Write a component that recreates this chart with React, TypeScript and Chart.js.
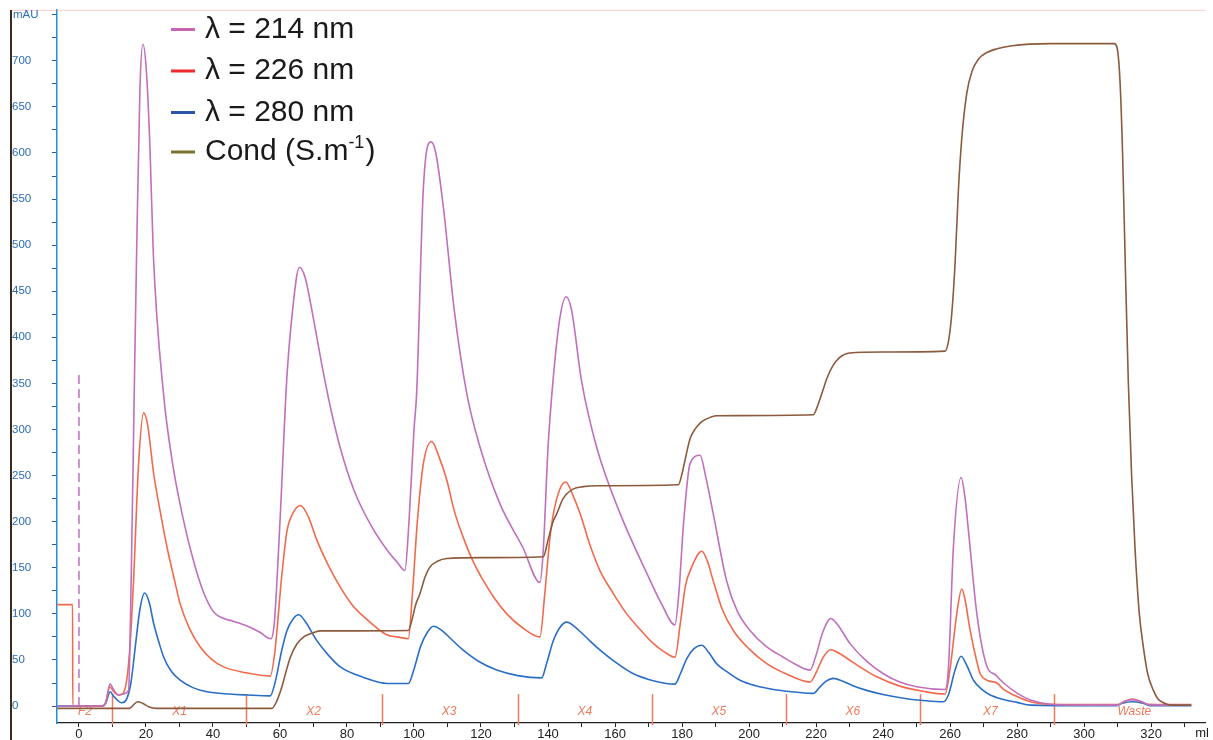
import { useEffect, useRef } from "react";
import { Chart, registerables } from "chart.js";
Chart.register(...registerables);

// ---- data (ml, mAU) ----
const ml214 = [-6.5, 7, 8, 9.3, 10.3, 11.8, 13, 14.8, 15.5, 16.5, 17.2, 18.2, 19.1, 20.1, 21.2, 22.2, 25.2, 28, 31, 34, 37, 40, 42.5, 46, 50, 54, 57.3, 58.3, 60, 62, 63.5, 65.8, 67.5, 70, 72.5, 75, 78, 82, 87, 92, 95, 97.3, 98.5, 100, 100.8, 102.8, 105.1, 106.5, 108.8, 112, 115.7, 119.7, 125.7, 132.5, 137.6, 138.6, 140, 141.5, 143.5, 145.4, 147, 150, 154.5, 161.5, 169.5, 174, 177.9, 179, 180.5, 182.4, 185.4, 187, 189.3, 193.3, 196.5, 200.3, 205, 210.2, 214, 218.2, 220, 222, 224.4, 226.5, 230.1, 235, 240.1, 245, 250, 258.5, 259.5, 261, 263.3, 264.5, 265.5, 268, 271, 273.5, 276, 280, 284, 290, 300, 310, 312, 314.5, 317, 319.5, 332];
const mAU214 = [0, 0, 4, 24, 18, 12, 13, 17, 120, 340, 490, 670, 718, 690, 605, 490, 340, 262, 205, 160, 125, 103, 96, 92, 87, 80, 73, 90, 200, 353, 420, 476, 465, 420, 370, 325, 280, 235, 197, 169, 156, 147, 200, 300, 340, 562, 612, 600, 540, 430, 340, 281, 219, 172, 134, 170, 280, 353, 420, 444, 430, 353, 281, 209, 144, 110, 88, 120, 200, 263, 272, 250, 209, 136, 103, 82, 65, 53, 45, 39, 55, 80, 95, 88, 68, 49, 35, 26, 21, 18, 40, 172, 248, 225, 190, 100, 43, 34, 25, 14, 6.5, 2, 1, 1, 5, 7, 5, 1.5, 1];

const ml226 = [-6.5, -1.9, -1.85, 7, 8, 9.2, 10.3, 11.8, 13, 14.5, 15.5, 16.3, 17.8, 19.3, 20.5, 22.3, 24.3, 26.3, 28.3, 30.2, 33, 36.2, 39.5, 43.2, 50, 57.1, 58.5, 60.5, 62.1, 64, 66.1, 68.5, 71, 74.5, 78, 81.5, 85, 92, 95, 98.3, 99.5, 101, 102.8, 105.3, 107.5, 109.8, 112, 114.7, 117.5, 120.7, 124, 127.7, 132, 137.6, 139, 140.5, 141.6, 143.5, 145.3, 147.5, 149.6, 152.5, 155.5, 159.5, 163.5, 167.5, 171.4, 175, 177.9, 179.5, 181, 182.9, 185.9, 187.5, 189.3, 192, 195.3, 200, 205.3, 211, 218.2, 220, 222, 224.4, 227, 230, 233.1, 238, 245, 252, 258.5, 260, 262, 263.5, 264.5, 266, 268, 269, 271, 274, 276, 279, 284, 290, 310, 312, 314.5, 317, 319.5, 332];
const mAU226 = [110, 110, 0, 0, 4, 21, 16, 12, 13, 35, 80, 136, 263, 318, 305, 252, 210, 172, 140, 111, 84, 64, 51, 42.5, 36, 32.5, 60, 140, 190, 210, 217.5, 205, 180, 152, 129, 110, 97, 77, 75, 73, 120, 200, 263, 287, 270, 245, 212, 183, 158, 136, 117, 100, 86, 75, 120, 180, 208.5, 235, 243, 228, 208.5, 175, 147, 122, 100, 83, 68, 58, 53, 90, 130, 151, 168, 158, 136, 105, 82, 62, 46, 35, 26, 36, 52, 61, 57, 50, 42.5, 32, 21.6, 16, 13, 40, 100, 127, 115, 82, 48, 35, 28, 25, 18, 12, 4.6, 2, 1.5, 5, 7.5, 5, 1.5, 1.5];

const ml280 = [-6.5, 7, 8, 9.3, 10.5, 12.8, 14, 15.5, 16.8, 18.2, 19.6, 21, 22.3, 23.8, 25.3, 27.5, 30.2, 34, 38.2, 45, 50, 57.1, 58.5, 60.5, 62.1, 64, 65.6, 67.5, 71, 74.5, 78, 85, 92, 98.3, 100, 102, 104, 105.8, 108, 111, 114.7, 119.5, 124.7, 131, 138.1, 139.5, 141.5, 143.5, 145.6, 148, 151, 154.5, 160, 165.5, 172, 177.9, 179.5, 181.5, 183.5, 185.9, 188, 190.3, 193.5, 197.3, 202, 207.3, 213, 219.2, 221, 223, 225.2, 228, 231, 235.1, 240, 247, 252, 258, 259.5, 261.5, 263.3, 265, 267, 269.5, 272, 276, 280, 284, 300, 309.7, 311.5, 314.5, 317.5, 319.7, 332];
const mAU280 = [0, 0, 3, 15.5, 10, 3.6, 6, 25, 64, 105, 122.6, 112, 89.5, 70, 53, 38, 28, 20, 15.5, 13, 12, 11, 25, 60, 82, 95, 99, 92, 71, 55, 42.5, 31, 24.5, 24.5, 40, 65, 80, 86.6, 83, 73, 60.6, 48, 39, 33, 30.6, 45, 70, 85, 91, 86, 76, 64, 48, 35, 27, 23.8, 35, 52, 62, 66, 58, 46, 37, 28, 22, 18, 15.5, 13.7, 20, 27, 30, 27, 22, 17, 12.5, 8, 6, 4.6, 12, 39, 54, 44, 28, 18, 12, 7, 4, 1, 0.5, 0.5, 3, 4.6, 3, 0.5, 0.5];

const mlCond = [-6.5, 15, 16.5, 17.5, 19, 21, 23, 57.6, 59, 60.5, 62, 63.1, 65, 67.1, 69.5, 72, 98.3, 99.5, 100.5, 101.8, 103.3, 104.8, 107, 109.8, 120, 138.6, 140, 141.5, 142.6, 144.5, 147.6, 150.5, 154.5, 178.9, 180, 181.2, 182.4, 184, 185.4, 187, 190.3, 219.2, 220.5, 222, 223.2, 225, 227, 230, 240, 258.5, 259.5, 260.5, 261.5, 262.5, 263.6, 265, 266.5, 268.5, 271, 274, 278, 290, 309, 309.8, 310.7, 311.5, 312.3, 313.2, 314.2, 315.2, 316.5, 317.7, 319, 320.7, 322, 323.7, 326, 332];
const cond = [-2.5, -2.5, 2, 4.6, 3, -1, -2.5, -2.5, 5, 20, 40, 53, 67, 75, 79, 81.5, 82, 95, 110, 122, 140, 151, 157, 160, 161, 162, 180, 200, 208.5, 225, 235.6, 238, 239, 240, 252, 272, 290, 301, 307, 311, 315, 316, 326, 342, 355, 369, 378, 383, 384, 385, 395, 425, 480, 560, 620, 665, 688, 702, 709, 713, 716, 718.6, 718.6, 715, 680, 600, 480, 353, 250, 172, 100, 64, 35, 17, 8, 3.6, 1, 1];

const fractionBounds = [10, 50, 90.5, 131, 171, 211, 251, 291];
const fractionNames = ["F2", "X1", "X2", "X3", "X4", "X5", "X6", "X7", "Waste"];
const fractionCenters = [1.8, 30, 70, 110.5, 151, 191, 231, 272, 315];
const injectionMl = [0];
const injectionTop = [364];

const xTickValues = [0, 10, 20, 30, 40, 50, 60, 70, 80, 90, 100, 110, 120, 130, 140, 150, 160, 170, 180, 190, 200, 210, 220, 230, 240, 250, 260, 270, 280, 290, 300, 310, 320, 330];
const yTickValues = [0, 25, 50, 75, 100, 125, 150, 175, 200, 225, 250, 275, 300, 325, 350, 375, 400, 425, 450, 475, 500, 525, 550, 575, 600, 625, 650, 675, 700, 725, 750];

const legendLabels = ["λ = 214 nm", "λ = 226 nm", "λ = 280 nm", "Cond (S.m"];
const legendColors = ["#c864b4", "#ee2a2a", "#2a55a8", "#7a7030"];

const C214 = "#c070bc";
const C226 = "#f26a4c";
const C280 = "#2a6ec6";
const CCOND = "#8c5a3c";
const FRAC = "#f07a5c";
const FONT = "'Liberation Sans', Arial, Helvetica, sans-serif";

const toPts = (xs: number[], ys: number[]) => xs.map((x, i) => ({ x, y: ys[i] }));

const decorPlugin = {
  id: "decor",
  beforeDatasetsDraw(chart: any) {
    const { ctx, chartArea, scales } = chart;
    const x = scales.x;
    const y = scales.y;
    ctx.save();
    ctx.strokeStyle = FRAC;
    ctx.lineWidth = 1.5;
    fractionBounds.forEach((b) => {
      const px = Math.round(x.getPixelForValue(b)) + 0.5;
      ctx.beginPath();
      ctx.moveTo(px, chartArea.bottom + 2);
      ctx.lineTo(px, y.getPixelForValue(13));
      ctx.stroke();
    });
    ctx.fillStyle = FRAC;
    ctx.font = `italic 12px ${FONT}`;
    ctx.textAlign = "center";
    ctx.textBaseline = "middle";
    fractionNames.forEach((n, i) => {
      ctx.fillText(n, x.getPixelForValue(fractionCenters[i]), chartArea.bottom - 11);
    });
    ctx.strokeStyle = "#c070bc";
    ctx.lineWidth = 1.5;
    ctx.setLineDash([9, 5]);
    injectionMl.forEach((m, i) => {
      const px = x.getPixelForValue(m);
      ctx.beginPath();
      ctx.moveTo(px, y.getPixelForValue(0));
      ctx.lineTo(px, y.getPixelForValue(injectionTop[i]));
      ctx.stroke();
    });
    ctx.setLineDash([]);
    ctx.restore();
  },
  afterDraw(chart: any) {
    const { ctx, chartArea } = chart;
    ctx.save();
    ctx.strokeStyle = "#3a2a20";
    ctx.lineWidth = 2;
    ctx.beginPath();
    ctx.moveTo(11, chartArea.top);
    ctx.lineTo(11, 740);
    ctx.stroke();
    ctx.strokeStyle = "rgba(240,150,130,0.45)";
    ctx.lineWidth = 1;
    ctx.beginPath();
    ctx.moveTo(12, chartArea.top + 0.5);
    ctx.lineTo(chartArea.right, chartArea.top + 0.5);
    ctx.stroke();
    ctx.fillStyle = "#2b6cb8";
    ctx.font = `11.5px ${FONT}`;
    ctx.textAlign = "left";
    ctx.textBaseline = "middle";
    ctx.fillText("mAU", 13, 15);
    ctx.fillStyle = "#222";
    ctx.font = `13px ${FONT}`;
    ctx.textAlign = "center";
    ctx.fillText("ml", chartArea.right - 3, 733);
    const rowY = [29.5, 71, 112.5, 152];
    legendLabels.forEach((t, i) => {
      ctx.strokeStyle = legendColors[i];
      ctx.lineWidth = 3;
      ctx.beginPath();
      ctx.moveTo(171, rowY[i]);
      ctx.lineTo(195, rowY[i]);
      ctx.stroke();
      ctx.fillStyle = "#1a1a1a";
      ctx.font = `30px ${FONT}`;
      ctx.textAlign = "left";
      ctx.textBaseline = "middle";
      ctx.fillText(t, 205, rowY[i]);
      if (i === 3) {
        let w = ctx.measureText(t).width;
        ctx.font = `18px ${FONT}`;
        ctx.fillText("-1", 205 + w, rowY[i] - 9);
        w += ctx.measureText("-1").width;
        ctx.font = `30px ${FONT}`;
        ctx.fillText(")", 205 + w + 1, rowY[i]);
      }
    });
    ctx.restore();
  },
};

export default function App() {
  const ref = useRef<HTMLCanvasElement | null>(null);
  useEffect(() => {
    if (!ref.current) return;
    const line = (label: string, data: any[], color: string) => ({
      label,
      data,
      borderColor: color,
      backgroundColor: color,
      borderWidth: 1.6,
      pointRadius: 0,
      cubicInterpolationMode: "monotone" as const,
      fill: false,
    });
    const chart = new Chart(ref.current, {
      type: "line",
      data: {
        datasets: [
          line("Cond (S.m-1)", toPts(mlCond, cond), CCOND),
          line("λ = 214 nm", toPts(ml214, mAU214), C214),
          line("λ = 226 nm", toPts(ml226, mAU226), C226),
          line("λ = 280 nm", toPts(ml280, mAU280), C280),
        ],
      },
      options: {
        animation: false,
        responsive: false,
        devicePixelRatio: 1,
        layout: { padding: { left: 12, top: 8, right: 8, bottom: 0 } },
        plugins: { legend: { display: false }, tooltip: { enabled: false } },
        scales: {
          x: {
            type: "linear",
            min: -6.555,
            max: 336.1,
            afterBuildTicks: (s: any) => {
              s.ticks = xTickValues.map((v) => ({ value: v }));
            },
            afterFit: (s: any) => {
              s.height = 17;
            },
            ticks: {
              autoSkip: false,
              maxRotation: 0,
              padding: 0,
              color: "#222",
              font: { family: FONT, size: 13 },
              callback: (v: any) => (Number(v) % 20 === 0 ? String(v) : ""),
            },
            grid: { drawOnChartArea: false, drawTicks: true, tickLength: 4, color: "#222" },
            border: { color: "#222", width: 1.2 },
          },
          y: {
            type: "linear",
            min: -18.39,
            max: 755.2,
            afterBuildTicks: (s: any) => {
              s.ticks = yTickValues.map((v) => ({ value: v }));
            },
            afterFit: (s: any) => {
              s.width = 45;
            },
            ticks: {
              autoSkip: false,
              crossAlign: "far",
              color: "#2b6cb8",
              font: { family: FONT, size: 11.5 },
              callback: (v: any) => (Number(v) % 50 === 0 && Number(v) < 750 ? String(v) : ""),
            },
            grid: { drawOnChartArea: false, drawTicks: true, tickLength: 5, color: "#2a5aa0" },
            border: { color: "#1e8ee0", width: 1.5 },
          },
        },
      },
      plugins: [decorPlugin],
    });
    return () => chart.destroy();
  }, []);
  return (
    <div style={{ position: "absolute", left: 0, top: 0, width: 1213, height: 740, background: "#fff" }}>
      <canvas ref={ref} width={1213} height={740} style={{ display: "block" }} />
    </div>
  );
}
